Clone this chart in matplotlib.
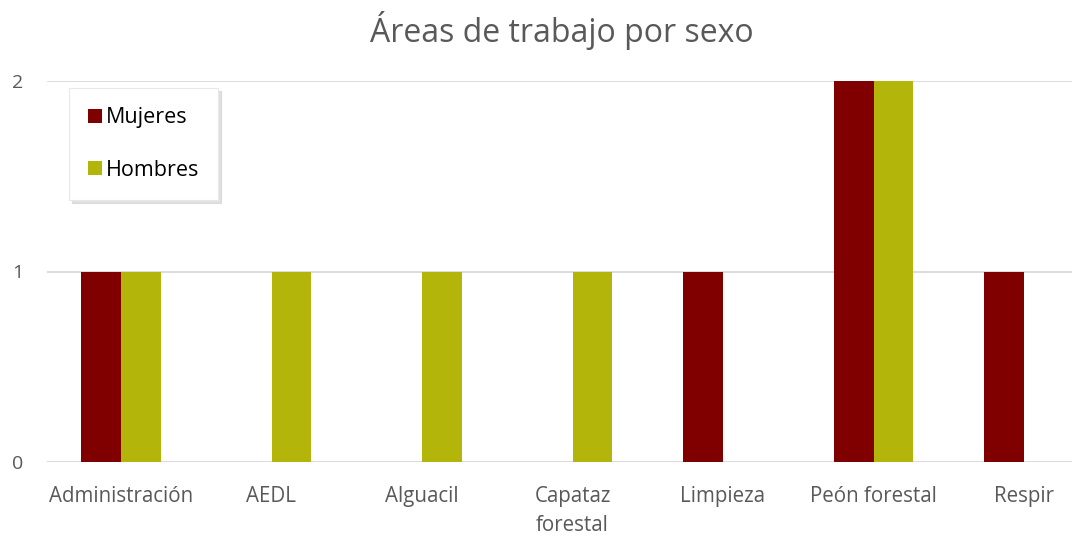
import matplotlib
matplotlib.use("Agg")
import matplotlib.pyplot as plt
import numpy as np

categories = ["Administración", "AEDL", "Alguacil", "Capataz\nforestal", "Limpieza", "Peón forestal", "Respir"]
mujeres = [1, 0, 0, 0, 1, 2, 1]
hombres = [1, 1, 1, 1, 0, 2, 0]
yticks = [0, 1, 2]

plt.rcParams['font.family'] = ['Open Sans', 'DejaVu Sans']
text_color = "#595959"

fig = plt.figure(figsize=(10.89, 5.38), dpi=100)
ax = fig.add_axes([47/1089, 1-462/538, (1072-47)/1089, (462-81)/538])

x = np.arange(len(categories))
w = 0.263
ax.bar(x - w/2, mujeres, w, color="#800000", label="Mujeres", zorder=3)
ax.bar(x + w/2, hombres, w, color="#B3B50A", label="Hombres", zorder=3)

unit = 150.5
ax.set_xlim(-(121-47)/unit, 6 + (1072-1024)/unit)
ax.set_ylim(0, 2)
ax.set_yticks(yticks)
ax.set_yticklabels([str(v) for v in yticks], fontsize=14, color=text_color)
ax.set_xticks(x)
ax.set_xticklabels(categories, fontsize=14.8, color=text_color, linespacing=1.5)
ax.tick_params(axis='both', length=0)
ax.tick_params(axis='y', pad=17)
ax.tick_params(axis='x', pad=17)
ax.grid(axis='y', color="#D9D9D9", linewidth=1.3, zorder=0)
for s in ax.spines.values():
    s.set_visible(False)

fig.suptitle("Áreas de trabajo por sexo", fontsize=23, color=text_color, x=562/1089, y=0.98)

leg = ax.legend(loc="upper left", bbox_to_anchor=(69/1089, 1-88/538), bbox_transform=fig.transFigure,
                fontsize=15.5, frameon=True, fancybox=False,
                shadow={'color': '#c4c4c4', 'ox': 2, 'oy': -2},
                labelspacing=1.45,
                handlelength=0.65, handleheight=0.65, handletextpad=0.15, borderpad=0.9,
                borderaxespad=0)
leg.get_frame().set_edgecolor("#E8E8E8")
leg.get_frame().set_linewidth(0.8)
for t in leg.get_texts():
    t.set_color("black")

fig.savefig("out.png", dpi=100)
